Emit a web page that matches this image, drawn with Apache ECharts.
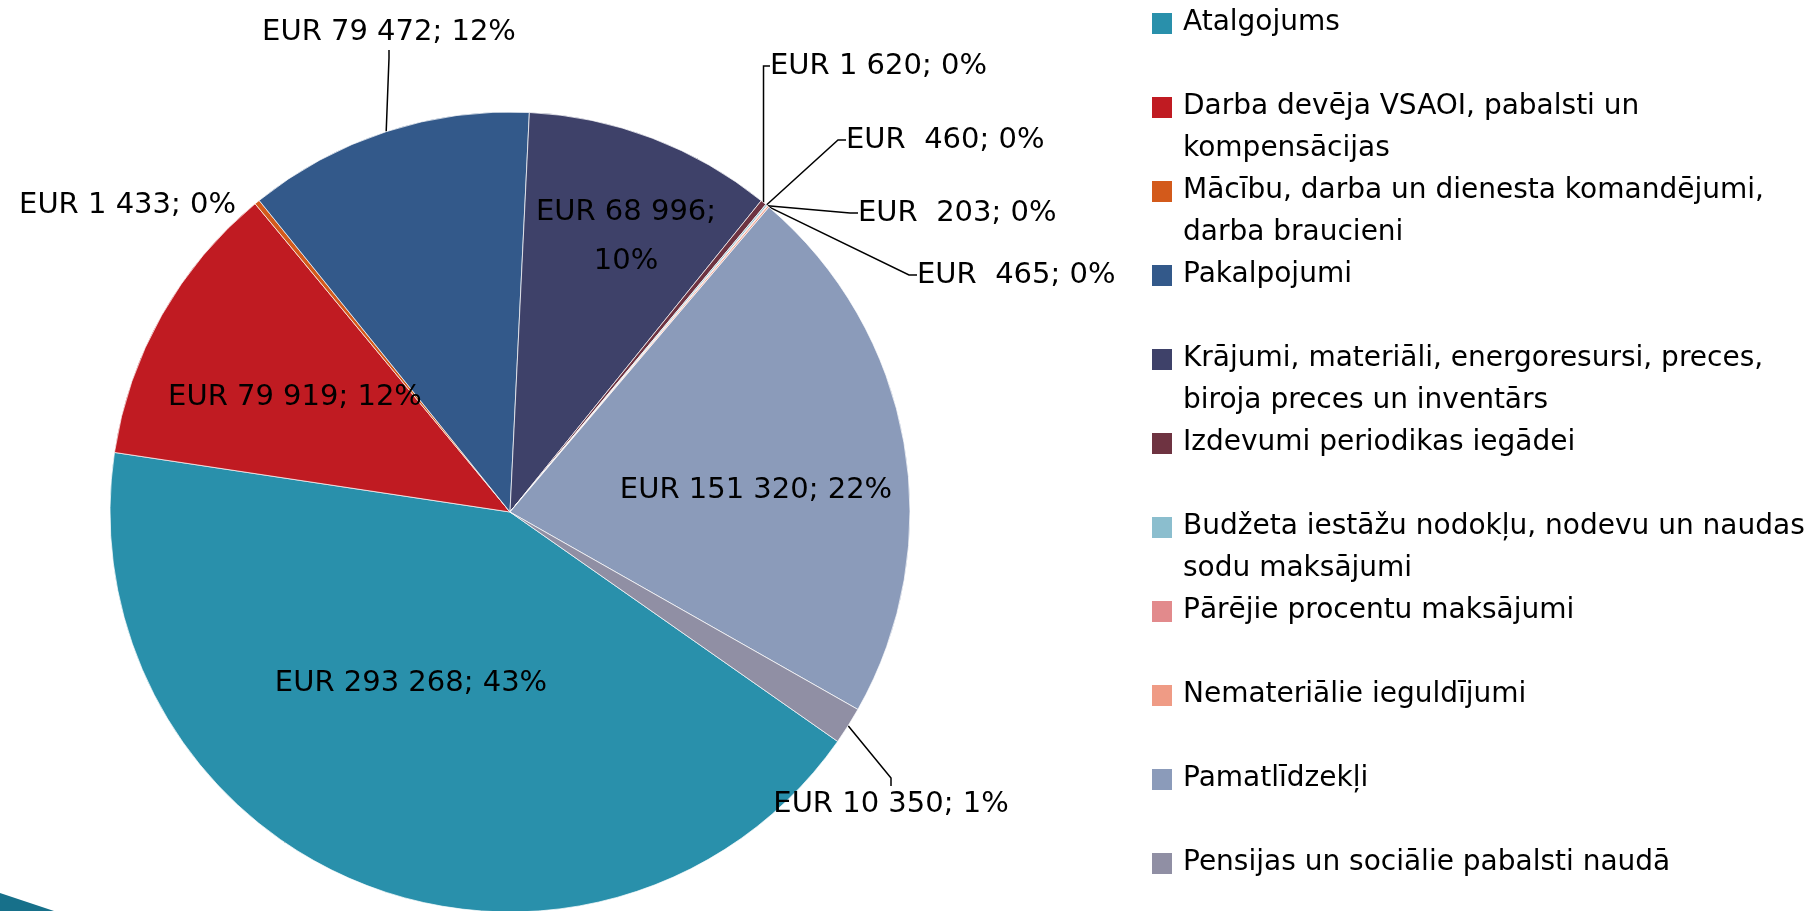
<!DOCTYPE html>
<html>
<head>
<meta charset="utf-8">
<title>Izdevumi</title>
<script src="https://cdn.jsdelivr.net/npm/echarts@6/dist/echarts.min.js"></script>
<style>
  html, body { margin: 0; padding: 0; background: #fff; }
  #chart { width: 1815px; height: 911px; }
</style>
</head>
<body>
<div id="chart"></div>
<script>
// izdevumu kategorijas
const categories = [
  'Atalgojums',
  'Darba devēja VSAOI, pabalsti un kompensācijas',
  'Mācību, darba un dienesta komandējumi, darba braucieni',
  'Pakalpojumi',
  'Krājumi, materiāli, energoresursi, preces, biroja preces un inventārs',
  'Izdevumi periodikas iegādei',
  'Budžeta iestāžu nodokļu, nodevu un naudas sodu maksājumi',
  'Pārējie procentu maksājumi',
  'Nemateriālie ieguldījumi',
  'Pamatlīdzekļi',
  'Pensijas un sociālie pabalsti naudā'
];
// summas, EUR
const amounts = [293268, 79919, 1433, 79472, 68996, 1620, 460, 203, 465, 151320, 10350];
// procenti tā, kā tie rakstīti etiķetēs
const percents = [43, 12, 0, 12, 10, 0, 0, 0, 0, 22, 1];
// leģendas teksts pa rindām
const legendLines = [
  ['Atalgojums'],
  ['Darba devēja VSAOI, pabalsti un', 'kompensācijas'],
  ['Mācību, darba un dienesta komandējumi,', 'darba braucieni'],
  ['Pakalpojumi'],
  ['Krājumi, materiāli, energoresursi, preces,', 'biroja preces un inventārs'],
  ['Izdevumi periodikas iegādei'],
  ['Budžeta iestāžu nodokļu, nodevu un naudas', 'sodu maksājumi'],
  ['Pārējie procentu maksājumi'],
  ['Nemateriālie ieguldījumi'],
  ['Pamatlīdzekļi'],
  ['Pensijas un sociālie pabalsti naudā']
];
const colors = ['#2990ab', '#c01b22', '#d35a1b', '#33598a', '#3e4169', '#6e3341',
                '#8bbece', '#e28a8c', '#ef9b85', '#8b9bba', '#908fa4'];

const FONT = 'DejaVu Sans';
const insideLabels = [0, 1, 4, 9];

// etiķešu novietojums (px)
const labelSpots = {
  0: { x: 411, y: 683, align: 'center', verticalAlign: 'middle' },
  1: { x: 295, y: 397, align: 'center', verticalAlign: 'middle' },
  2: { x: 236, y: 205, align: 'right', verticalAlign: 'middle' },
  3: { x: 389, y: 32, align: 'center', verticalAlign: 'middle' },
  4: { x: 626, y: 237, align: 'center', verticalAlign: 'middle' },
  5: { x: 770, y: 66, align: 'left', verticalAlign: 'middle' },
  6: { x: 846, y: 140, align: 'left', verticalAlign: 'middle' },
  7: { x: 858, y: 213, align: 'left', verticalAlign: 'middle' },
  8: { x: 917, y: 275, align: 'left', verticalAlign: 'middle' },
  9: { x: 756, y: 490, align: 'center', verticalAlign: 'middle' },
  10: { x: 891, y: 804, align: 'center', verticalAlign: 'middle' }
};

function eur(v) {
  const s = String(v).replace(/\B(?=(\d{3})+(?!\d))/g, ' ');
  return 'EUR ' + (v < 1000 ? ' ' : '') + s;
}

const chart = echarts.init(document.getElementById('chart'));
chart.setOption({
  animation: false,
  color: colors,
  legend: {
    orient: 'vertical',
    left: 1152,
    top: 2,
    height: 1000,
    padding: 0,
    itemGap: 0,
    itemWidth: 26,
    itemHeight: 84,
    icon: 'path://M0,0h0M0,11H20V32H0ZM26,84h0',
    itemStyle: { borderWidth: 0 },
    selectedMode: false,
    textStyle: { fontFamily: FONT, fontSize: 28, lineHeight: 42, color: '#000' },
    formatter: name => {
      const lines = legendLines[categories.indexOf(name)];
      return (lines.length === 1 ? lines.concat(' ') : lines).join('\n');
    },
    data: categories
  },
  graphic: [{
    type: 'polygon',
    silent: true,
    shape: { points: [[0, 893], [54, 911], [0, 911]] },
    style: { fill: '#17708a' }
  }],
  series: [{
    type: 'pie',
    center: [510, 512],
    radius: 400,
    startAngle: -35,
    clockwise: true,
    avoidLabelOverlap: false,
    itemStyle: { borderColor: 'rgba(255,255,255,0.7)', borderWidth: 1 },
    label: {
      show: true,
      position: 'outside',
      color: '#000',
      fontFamily: FONT,
      fontSize: 29,
      lineHeight: 36,
      formatter: p => eur(amounts[p.dataIndex]) + ';' + (p.dataIndex === 4 ? '\n' : ' ') + percents[p.dataIndex] + '%'
    },
    labelLine: { show: true, length: 10, length2: 8, lineStyle: { color: '#000', width: 1.5 } },
    labelLayout: p => labelSpots[p.dataIndex],
    emphasis: { disabled: true },
    data: categories.map((name, i) => {
      const item = { name, value: amounts[i] };
      if (insideLabels.includes(i)) item.label = { position: 'inside', lineHeight: i === 4 ? 49 : 36 };
      if (i === 2) item.labelLine = { show: false };
      return item;
    })
  }]
});
</script>
</body>
</html>
